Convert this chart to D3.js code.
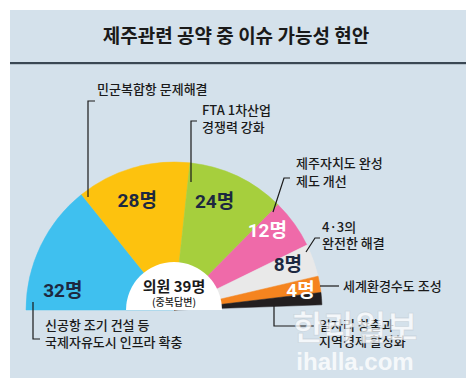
<!DOCTYPE html>
<html><head><meta charset="utf-8">
<script src="https://cdn.jsdelivr.net/npm/d3@7"></script>
<style>
html,body{margin:0;padding:0;background:#fff;}
svg{display:block;font-family:"Noto Sans CJK KR","Noto Sans",sans-serif;}
</style></head>
<body><svg id="c" width="472" height="389"></svg>
<script>
// ---- data ----
const title = "제주관련 공약 중 이슈 가능성 현안";
const categories = ["신공항 조기 건설 등 국제자유도시 인프라 확충","민군복합항 문제해결","FTA 1차산업 경쟁력 강화","제주자치도 완성 제도 개선","4·3의 완전한 해결","세계환경수도 조성","일자리 창출과 지역경제 활성화"];
const values = [32, 28, 24, 12, 8, 4, 3];
const valueLabels = ["32명","28명","24명","12명","8명","4명",""];
const centerLabel = ["의원 39명","(중복답변)"];
const colors = ["#3fc0ef","#fdc20e","#a6cf3d","#ef6aa9","#e9e9e9","#f5841f","#231f20"];
const labelColors = ["#1d2840","#1d2840","#1d2840","#ffffff","#1d2840","#ffffff","#fff"];

// ---- layout ----
const svg = d3.select("#c");
svg.append("rect").attr("x",10).attr("y",10).attr("width",456).attr("height",368).attr("fill","#d4e1eb");
svg.append("rect").attr("x",10).attr("y",62).attr("width",456).attr("height",2.2).attr("fill","#3a4753");
svg.append("text").attr("x",236).attr("y",43).attr("text-anchor","middle")
  .attr("font-size",19).attr("font-weight",700).attr("fill","#1a1a1a").text(title);

const cx = 174, cy = 310, R = 148, r0 = 48;
const g = svg.append("g").attr("transform",`translate(${cx},${cy})`);
const pie = d3.pie().sort(null).value(d=>d).startAngle(-Math.PI/2).endAngle(Math.PI/2 - 0.035);
const arcs = pie(values);
const arc = d3.arc().innerRadius(0).outerRadius(R);
g.selectAll("path.s").data(arcs).join("path").attr("class","s")
  .attr("d",arc).attr("fill",(d,i)=>colors[i]).attr("stroke",(d,i)=>colors[i]).attr("stroke-width",0.5);

// inner white half circle
g.append("path").attr("d", d3.arc().innerRadius(0).outerRadius(r0).startAngle(-Math.PI/2).endAngle(Math.PI/2)()).attr("fill","#fff");
g.append("text").attr("x",0).attr("y",-18).attr("text-anchor","middle").attr("font-size",15).attr("font-weight",700)
  .attr("fill","#1a1a1a").text(centerLabel[0]);
g.append("text").attr("x",0).attr("y",-4).attr("text-anchor","middle").attr("font-size",10).attr("font-weight",500)
  .attr("fill","#1a1a1a").text(centerLabel[1]);

// value labels placed by fraction within each slice angle
const labelPos = [[0.2,113],[0.45,116],[0.37,116],[0.24,123],[0.3,123],[0.67,128],[0.5,130]];
arcs.forEach((a,i)=>{
  if(!valueLabels[i]) return;
  const [t,rr] = labelPos[i];
  const ang = a.startAngle + t*(a.endAngle-a.startAngle);
  g.append("text").attr("x", rr*Math.sin(ang)).attr("y", -rr*Math.cos(ang)+7)
    .attr("text-anchor","middle").attr("font-size",19).attr("font-weight",700)
    .attr("fill",labelColors[i]).attr("font-family","Roboto,'Noto Sans CJK KR',sans-serif")
    .text(valueLabels[i]);
});

// annotations (text lines + leader polylines)
const ann = [
  {lines:["신공항 조기 건설 등","국제자유도시 인프라 확충"], x:45, y:[330,347], path:[[33,302],[33,339],[40,339]]},
  {lines:["민군복합항 문제해결"], x:97, y:[94], path:[[95,101],[88,101],[88,197]]},
  {lines:["FTA 1차산업","경쟁력 강화"], x:202, y:[115,132], path:[[197,121],[191,121],[191,182]]},
  {lines:["제주자치도 완성","제도 개선"], x:296, y:[168,186], path:[[290,178],[284,178],[273,212]]},
  {lines:["4·3의","완전한 해결"], x:322, y:[232,248], path:[[320,238],[315,238],[306,252]]},
  {lines:["세계환경수도 조성"], x:343, y:[291], path:[[320,286],[339,286]]},
  {lines:["일자리 창출과","지역경제 활성화"], x:319, y:[330,346], path:[[274,306],[274,326],[314,326]]}
];
ann.forEach(a=>{
  svg.append("path").attr("d", d3.line()(a.path)).attr("fill","none").attr("stroke","#1a1a1a").attr("stroke-width",1.2);
  a.lines.forEach((l,j)=>{
    svg.append("text").attr("x",a.x).attr("y",a.y[j]).attr("font-size",13).attr("font-weight",500)
      .attr("fill","#1a1a1a").text(l);
  });
});

// watermark
svg.append("text").attr("x",355).attr("y",340).attr("text-anchor","middle").attr("font-size",34).attr("font-weight",700)
  .attr("fill","#ffffff").attr("fill-opacity",0.75).attr("stroke","#b8c4cc").attr("stroke-opacity",0.5).attr("stroke-width",0.8).text("한라일보");
svg.append("text").attr("x",355).attr("y",370).attr("text-anchor","middle").attr("font-size",24).attr("font-weight",700)
  .attr("fill","#ffffff").attr("fill-opacity",0.8).attr("font-family","Arial,'Liberation Sans',sans-serif").text("ihalla.com");
</script></body></html>
